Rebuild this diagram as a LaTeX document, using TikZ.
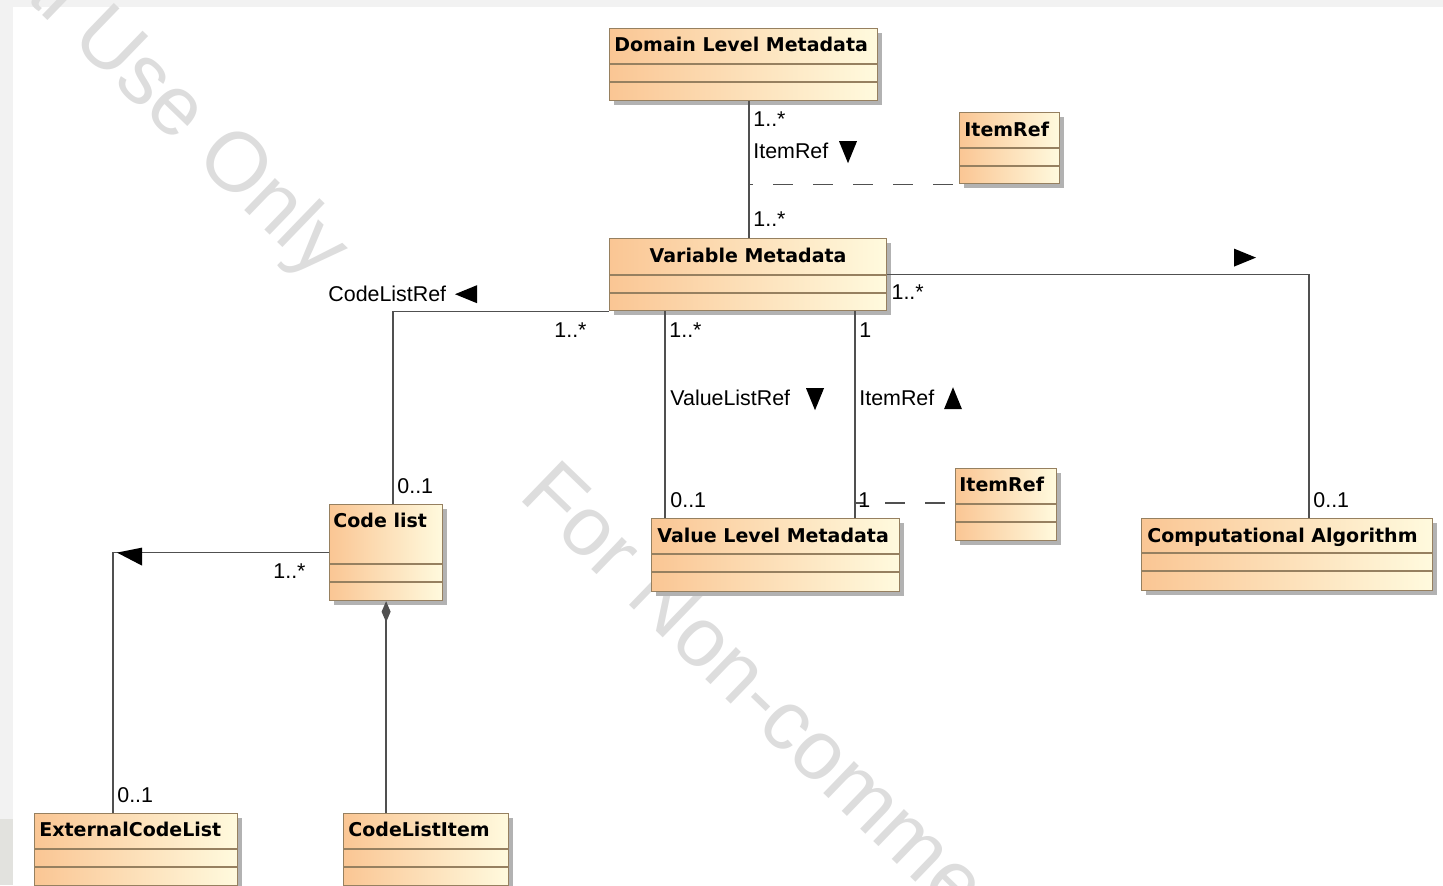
\documentclass[tikz,border=0pt]{standalone}
\usepackage{fontspec}
\setmainfont{Liberation Sans}
\newfontfamily\clsfont{DejaVu Sans}
\usetikzlibrary{arrows.meta}
\usetikzlibrary{calc}
\usetikzlibrary{shadows}
\definecolor{clsleft}{RGB}{250,198,148}
\definecolor{clsright}{RGB}{255,250,222}
\definecolor{clsline}{RGB}{150,128,96}
\definecolor{assocline}{RGB}{80,80,80}
\definecolor{framegray}{RGB}{242,242,242}
\definecolor{framedark}{RGB}{226,226,222}
\definecolor{wmgray}{RGB}{221,221,221}
\tikzstyle{umlclass}=[rectangle, draw=clsline, line width=0.6pt, left color=clsleft, right color=clsright, drop shadow={shadow xshift=2pt, shadow yshift=-2pt, fill=black!30, opacity=1}, inner sep=0pt, anchor=north west]
\tikzstyle{clstitle}=[inner sep=0pt, anchor=west, text height=6.9pt, text depth=0pt, font=\clsfont\bfseries\fontsize{9.5}{11}\selectfont]
\tikzstyle{mult}=[inner sep=0pt, anchor=west, text height=7.7pt, text depth=0pt, font=\fontsize{10.7}{12}\selectfont]
\tikzstyle{assoc}=[draw=assocline, line width=0.7pt]
\tikzstyle{refdash}=[assoc, dash pattern=on 10pt off 10pt]
\tikzstyle{watermark}=[inner sep=0pt, text=wmgray, font=\fontsize{42}{50}\selectfont]
\tikzset{navtri/.pic={\fill (-9,-11) -- (9,-11) -- (0,11) -- cycle;}}
\tikzset{>=latex}

% box with header and two empty compartments
\newcommand{\classbox}[6]{%
  \node[umlclass, minimum width=#4*0.5pt, minimum height=#5*0.5pt] (#1) at (#2,#3) {};
  \draw[clsline, line width=0.6pt] ($(#1.north west)+(0,#6)$) -- ++(#4,0);
  \draw[clsline, line width=0.6pt] ($(#1.north west)+(0,#6+18)$) -- ++(#4,0);
}

\begin{document}
\begin{tikzpicture}[x=0.5pt, y=-0.5pt]
\useasboundingbox (0,0) rectangle (1443,885);
\clip (0,0) rectangle (1443,885);

\fill[framegray] (0,0) rectangle (1443,7);
\fill[framegray] (0,0) rectangle (13,885);
\fill[framedark] (0,819) rectangle (13,885);

\node[watermark, rotate=-44, anchor=base east] (wmtop) at (318,281) {For Non-commercial Use Only};
\node[watermark, rotate=-44, anchor=base west] (wmmid) at (517,497) {For Non-commercial Use Only};

\classbox{dlm}{609}{28}{268}{72}{36}
\classbox{itemrefA}{959}{112}{100}{71}{36}
\classbox{vm}{609}{238}{277}{72}{37}
\classbox{cl}{329}{504}{113}{96}{60}
\classbox{vlm}{651}{518}{248}{73}{36}
\classbox{itemrefB}{955}{468}{101}{72}{36}
\classbox{ca}{1141}{518}{291}{72}{35}
\classbox{ecl}{34}{813}{203}{72}{36}
\classbox{cli}{343}{813}{165}{72}{36}

\node[clstitle] (dlm-t) at ($(dlm.north west)+(5,17)$) {Domain Level Metadata};
\node[clstitle] (itemrefA-t) at ($(itemrefA.north west)+(5,18)$) {ItemRef};
\node[clstitle, anchor=center] (vm-t) at ($(vm.north)+(0,18)$) {Variable Metadata};
\node[clstitle] (cl-t) at ($(cl.north west)+(4,17)$) {Code list};
\node[clstitle] (vlm-t) at ($(vlm.north west)+(6,18)$) {Value Level Metadata};
\node[clstitle] (itemrefB-t) at ($(itemrefB.north west)+(4,17)$) {ItemRef};
\node[clstitle] (ca-t) at ($(ca.north west)+(6,18)$) {Computational Algorithm};
\node[clstitle] (ecl-t) at ($(ecl.north west)+(5,17)$) {ExternalCodeList};
\node[clstitle] (cli-t) at ($(cli.north west)+(5,17)$) {CodeListItem};

% Domain Level Metadata -- Variable Metadata
\coordinate (dv1) at ($(dlm.south west)+(140,0)$);
\coordinate (dv2) at (dv1 |- vm.north);
\draw[assoc] (dv1) -- (dv2);
\draw[refdash, dash phase=8pt] (dv1 |- itemrefA.south west) -- (itemrefA.south west);
\node[mult] (m1) at ($(dv1)+(4,18)$) {1..*};
\node[mult] (r1) at ($(dv1)+(4,50)$) {ItemRef};
\pic at ($(dv1)+(99,51)$) {navtri};
\node[mult] (m2) at ($(dv2)+(4,-19)$) {1..*};

% Variable Metadata -- Computational Algorithm
\coordinate (ca1) at ($(ca.north west)+(168,0)$);
\draw[assoc] (vm.east) -| (ca1);
\node[mult] (m3) at ($(vm.east)+(4,17)$) {1..*};
\pic[rotate=90] at ($(ca1 |- vm.east)+(-64,-17)$) {navtri};
\node[mult] (m4) at ($(ca1)+(4,-18)$) {0..1};

% Variable Metadata -- Code list
\coordinate (cl1) at ($(cl.north west)+(64,0)$);
\draw[assoc] (vm.south west) -| (cl1);
\node[mult] (r2) at ($(cl1 |- vm.south west)+(-65,-17)$) {CodeListRef};
\pic[rotate=-90] at ($(cl1 |- vm.south west)+(73,-17)$) {navtri};
\node[mult] (m5) at ($(vm.south west)+(-55,19)$) {1..*};
\node[mult] (m6) at ($(cl1)+(4,-18)$) {0..1};

% Variable Metadata -- Value Level Metadata
\coordinate (vv1) at ($(vm.south west)+(56,0)$);
\coordinate (vv2) at (vv1 |- vlm.north);
\draw[assoc] (vv1) -- (vv2);
\node[mult] (m7) at ($(vv1)+(4,19)$) {1..*};
\node[mult] (r3) at ($(vv1)+(5,87)$) {ValueListRef};
\pic at ($(vv1)+(150,88)$) {navtri};
\node[mult] (m8) at ($(vv2)+(5,-18)$) {0..1};

\coordinate (iv1) at ($(vm.south west)+(246,0)$);
\coordinate (iv2) at (iv1 |- vlm.north);
\coordinate (ib1) at ($(itemrefB.north west)+(0,35)$);
\draw[assoc] (iv1) -- (iv2);
\draw[refdash, dash phase=5pt] (iv1 |- ib1) -- (ib1);
\node[mult] (m9) at ($(iv1)+(4,19)$) {1};
\node[mult] (r4) at ($(iv1)+(4,87)$) {ItemRef};
\pic[rotate=180] at ($(iv1)+(98,87)$) {navtri};
\node[mult] (m10) at ($(iv2)+(3,-18)$) {1};

% Code list -- ExternalCodeList, CodeListItem
\coordinate (ecl1) at ($(ecl.north west)+(79,0)$);
\draw[assoc] (cl.west) -| (ecl1);
\fill ($(ecl1 |- cl.west)+(4,0)$) -- ++(25,-5) -- ++(0,18) -- cycle;
\node[mult] (m11) at ($(cl.west)+(-56,18)$) {1..*};
\node[mult] (m12) at ($(ecl1)+(4,-18)$) {0..1};
\draw[assoc, {Diamond[length=10.5pt, width=4.5pt]}-] (cl.south) -- (cl.south |- cli.north);

\end{tikzpicture}
\end{document}
